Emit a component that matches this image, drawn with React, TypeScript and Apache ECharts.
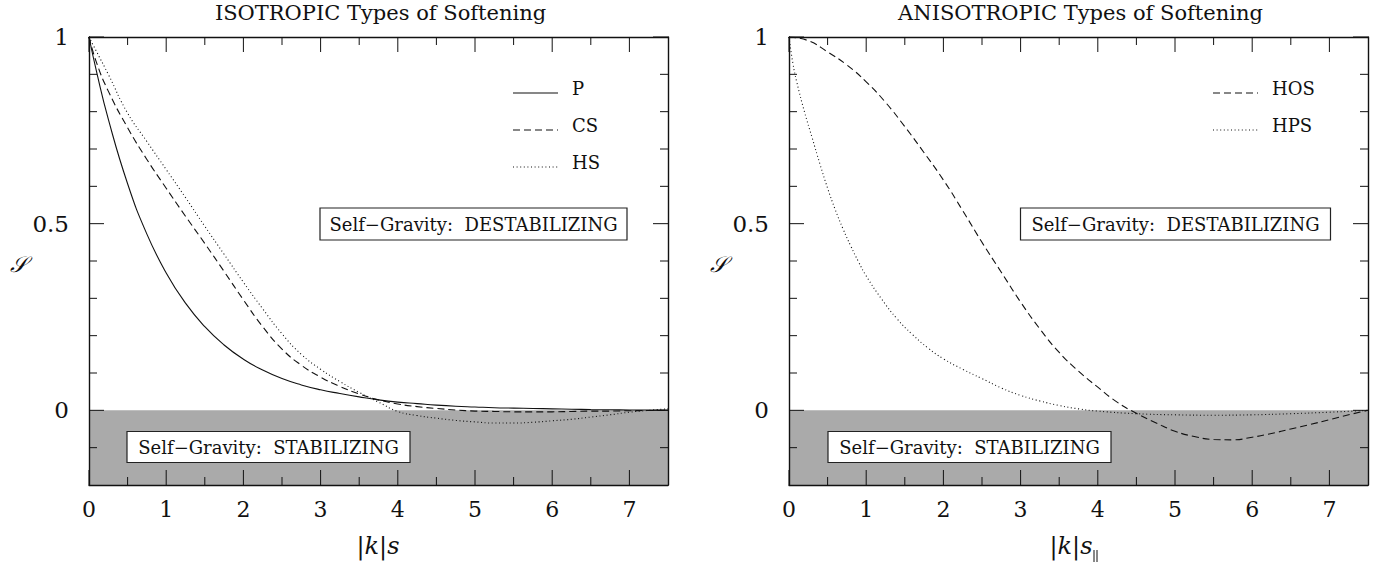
import React, { useEffect, useRef } from "react";
import * as echarts from "echarts";

const FONT = '"DejaVu Serif", "Liberation Serif", serif';

// ---- Isotropic softening (left panel) ----
const kIso = [0, 0.1, 0.25, 0.5, 0.75, 1, 1.25, 1.5, 1.75, 2, 2.25, 2.5, 2.75, 3, 3.25, 3.5, 3.75, 4, 4.25, 4.5, 4.75, 5, 5.25, 5.5, 5.75, 6, 6.25, 6.5, 6.75, 7, 7.25, 7.5];
const P = [1, 0.905, 0.78, 0.607, 0.472, 0.368, 0.287, 0.224, 0.175, 0.137, 0.108, 0.085, 0.068, 0.055, 0.045, 0.036, 0.028, 0.022, 0.018, 0.014, 0.011, 0.009, 0.007, 0.006, 0.005, 0.004, 0.003, 0.002, 0.0015, 0.001, 0.0007, 0.0005];
const CS = [1, 0.93, 0.855, 0.757, 0.672, 0.595, 0.52, 0.447, 0.372, 0.296, 0.224, 0.164, 0.121, 0.089, 0.064, 0.044, 0.028, 0.017, 0.01, 0.005, 0.001, -0.002, -0.003, -0.004, -0.004, -0.004, -0.003, -0.002, -0.002, -0.001, -0.0005, 0];
const HS = [1, 0.96, 0.9, 0.796, 0.72, 0.645, 0.57, 0.493, 0.418, 0.343, 0.272, 0.205, 0.15, 0.11, 0.077, 0.048, 0.022, -0.003, -0.014, -0.021, -0.027, -0.031, -0.034, -0.034, -0.032, -0.028, -0.024, -0.018, -0.012, -0.005, 0, 0.004];

// ---- Anisotropic softening (right panel) ----
const kHos = [0, 0.25, 0.5, 0.75, 1, 1.25, 1.5, 1.75, 2, 2.25, 2.5, 2.75, 3, 3.25, 3.5, 3.75, 4, 4.25, 4.5, 4.75, 5, 5.25, 5.5, 5.75, 6, 6.25, 6.5, 6.75, 7, 7.25, 7.5];
const HOS = [1, 0.99, 0.96, 0.925, 0.88, 0.825, 0.76, 0.69, 0.617, 0.535, 0.45, 0.37, 0.29, 0.218, 0.155, 0.105, 0.062, 0.022, -0.008, -0.033, -0.056, -0.07, -0.078, -0.079, -0.072, -0.062, -0.05, -0.038, -0.025, -0.012, 0];
const kHps = [0, 0.05, 0.1, 0.2, 0.3, 0.4, 0.5, 0.6, 0.7, 0.8, 0.9, 1, 1.2, 1.4, 1.6, 1.8, 2, 2.25, 2.5, 2.75, 3, 3.25, 3.5, 3.75, 4, 4.5, 5, 5.5, 6, 6.5, 7, 7.5];
const HPS = [1, 0.93, 0.88, 0.8, 0.73, 0.66, 0.595, 0.537, 0.486, 0.44, 0.398, 0.36, 0.298, 0.245, 0.203, 0.167, 0.138, 0.11, 0.085, 0.06, 0.04, 0.025, 0.013, 0.004, -0.002, -0.009, -0.012, -0.013, -0.012, -0.009, -0.005, 0];

// ---- axes / ticks ----
const xRange = [0, 7.5];
const yRange = [-0.2, 1];
const xMajorStep = 1;
const xMajorTicks = [0, 1, 2, 3, 4, 5, 6, 7];
const xMinorTicks = [0.5, 1.5, 2.5, 3.5, 4.5, 5.5, 6.5];
const yMinorStep = 0.1;
const yMajorTicks = [0, 0.5, 1];
const yMinorTicks = [-0.1, 0.1, 0.2, 0.3, 0.4, 0.6, 0.7, 0.8, 0.9];
const stableBand = [-0.2, 0];

const titles = ["ISOTROPIC Types of Softening", "ANISOTROPIC Types of Softening"];
const destabText = "Self\u2212Gravity:  DESTABILIZING";
const stabText = "Self\u2212Gravity:  STABILIZING";

const INK = "#111";
const GRID_LEFT = [89, 789];
const GRID_TOP = 37;
const GRID_W = 579;
const GRID_H = 448;
const MAJOR_LEN = 15;
const MINOR_LEN = 8;

function isHalf(v: number) {
  return Math.abs(v * 2 - Math.round(v * 2)) < 1e-6;
}

function axesFor(gi: number) {
  const common = { type: "value", gridIndex: gi, z: 10, splitLine: { show: false }, axisTick: { show: false } };
  const lineStyle = { color: INK, width: 1.4 };
  const xs: any[] = [];
  const ys: any[] = [];
  for (const pos of ["bottom", "top"]) {
    xs.push({
      ...common,
      min: xRange[0],
      max: xRange[1],
      interval: xMajorStep,
      position: pos,
      axisLine: { show: true, onZero: false, lineStyle },
      axisLabel: pos === "bottom"
        ? {
            show: true,
            margin: 13,
            fontSize: 22,
            fontFamily: FONT,
            color: INK,
            showMaxLabel: false,
            formatter: (v: number) => (Math.abs(v - Math.round(v)) < 1e-6 ? String(Math.round(v)) : ""),
          }
        : { show: false },
    });
  }
  for (const pos of ["left", "right"]) {
    ys.push({
      ...common,
      min: yRange[0],
      max: yRange[1],
      interval: yMinorStep,
      position: pos,
      axisLine: { show: true, onZero: false, lineStyle },
      axisLabel: pos === "left"
        ? {
            show: true,
            margin: 20,
            fontSize: 23,
            fontFamily: FONT,
            color: INK,
            formatter: (v: number) => (isHalf(v) && v >= 0 ? String(Math.round(v * 10) / 10) : ""),
          }
        : { show: false },
    });
  }
  return { xs, ys };
}

function curve(name: string, xs: number[], ys: number[], gi: number, dash: any) {
  return {
    type: "line",
    name,
    xAxisIndex: gi * 2,
    yAxisIndex: gi * 2,
    data: xs.map((x, i) => [x, ys[i]]),
    symbol: "none",
    smooth: true,
    silent: true,
    z: 3,
    lineStyle: { color: INK, width: 1.1, type: dash },
  };
}

function band(gi: number) {
  return {
    type: "line",
    xAxisIndex: gi * 2,
    yAxisIndex: gi * 2,
    data: [[xRange[0], stableBand[1]]],
    symbol: "none",
    silent: true,
    z: 1,
    lineStyle: { opacity: 0 },
    markArea: {
      silent: true,
      itemStyle: { color: "#aaaaaa" },
      data: [[{ yAxis: stableBand[0] }, { yAxis: stableBand[1] }]],
    },
  };
}

const DASH = [7, 4];
const DOT = [1, 2.6];

function legendItem(x: number, y: number, label: string, dash: any) {
  return [
    {
      type: "line",
      z: 20,
      shape: { x1: x, y1: y, x2: x + 45, y2: y },
      style: { stroke: INK, lineWidth: 1.1, lineDash: dash },
    },
    {
      type: "text",
      z: 20,
      x: x + 59,
      y: y - 5,
      style: { text: label, font: `18px ${FONT}`, fill: INK, align: "left", verticalAlign: "middle" },
    },
  ];
}

function box(cx: number, cy: number, w: number, h: number, label: string) {
  return [
    {
      type: "rect",
      z: 20,
      shape: { x: cx - w / 2, y: cy - h / 2, width: w, height: h },
      style: { fill: "#fff", stroke: "#222", lineWidth: 1.2 },
    },
    {
      type: "text",
      z: 21,
      x: cx,
      y: cy,
      style: { text: label, font: `18px ${FONT}`, fill: INK, align: "center", verticalAlign: "middle" },
    },
  ];
}

function baseGraphic() {
  const graphic: any[] = [];
  titles.forEach((t, i) => {
    graphic.push({
      type: "text",
      z: 20,
      x: GRID_LEFT[i] + GRID_W / 2 + 2,
      y: 13,
      style: { text: t, font: `21px ${FONT}`, fill: INK, align: "center", verticalAlign: "middle" },
    });
  });
  [0, 1].forEach((i) => {
    graphic.push({
      type: "text",
      z: 20,
      x: GRID_LEFT[i] - 71,
      y: 264,
      style: { text: "\u{1D4AE}", font: `italic 22px ${FONT}`, fill: INK, align: "center", verticalAlign: "middle" },
    });
  });
  const kLabel = (x: number) => ({
    type: "text",
    z: 20,
    x,
    y: 546,
    style: {
      text: "|{i|k}|{i|s}",
      font: `24px ${FONT}`,
      fill: INK,
      align: "center",
      verticalAlign: "middle",
      rich: { i: { fontStyle: "italic", fontSize: 24, fontFamily: FONT } },
    },
  });
  graphic.push(kLabel(GRID_LEFT[0] + 289));
  graphic.push(kLabel(GRID_LEFT[1] + 282));
  const sx = GRID_LEFT[1] + 305;
  graphic.push({ type: "line", z: 20, shape: { x1: sx, y1: 550, x2: sx, y2: 562 }, style: { stroke: INK, lineWidth: 1 } });
  graphic.push({ type: "line", z: 20, shape: { x1: sx + 3, y1: 550, x2: sx + 3, y2: 562 }, style: { stroke: INK, lineWidth: 1 } });

  graphic.push(...legendItem(513, 93, "P", "solid"));
  graphic.push(...legendItem(513, 130, "CS", DASH));
  graphic.push(...legendItem(513, 167, "HS", DOT));
  graphic.push(...legendItem(1213, 93, "HOS", DASH));
  graphic.push(...legendItem(1213, 130, "HPS", DOT));

  graphic.push(...box(473.5, 224, 307, 32, destabText));
  graphic.push(...box(1175.5, 224, 310, 32, destabText));
  graphic.push(...box(268.5, 447, 283, 31, stabText));
  graphic.push(...box(969.5, 447, 283, 31, stabText));
  return graphic;
}

function tickGraphic(chart: any) {
  const els: any[] = [];
  const seg = (x1: number, y1: number, x2: number, y2: number) =>
    els.push({ type: "line", z: 15, silent: true, shape: { x1, y1, x2, y2 }, style: { stroke: INK, lineWidth: 1 } });
  for (const gi of [0, 1]) {
    const finder = { xAxisIndex: gi * 2, yAxisIndex: gi * 2 };
    const px = (x: number, y: number) => chart.convertToPixel(finder, [x, y]);
    const addX = (vals: number[], len: number) => {
      for (const v of vals) {
        const b = px(v, yRange[0]);
        const t = px(v, yRange[1]);
        seg(b[0], b[1], b[0], b[1] - len);
        seg(t[0], t[1], t[0], t[1] + len);
      }
    };
    const addY = (vals: number[], len: number) => {
      for (const v of vals) {
        const l = px(xRange[0], v);
        const r = px(xRange[1], v);
        seg(l[0], l[1], l[0] + len, l[1]);
        seg(r[0], r[1], r[0] - len, r[1]);
      }
    };
    addX(xMajorTicks, MAJOR_LEN);
    addX(xMinorTicks, MINOR_LEN);
    addY(yMajorTicks, MAJOR_LEN);
    addY(yMinorTicks, MINOR_LEN);
  }
  return els;
}

function buildOption() {
  const a0 = axesFor(0);
  const a1 = axesFor(1);
  return {
    animation: false,
    backgroundColor: "#fff",
    grid: [
      { left: GRID_LEFT[0], top: GRID_TOP, width: GRID_W, height: GRID_H, show: false },
      { left: GRID_LEFT[1], top: GRID_TOP, width: GRID_W, height: GRID_H, show: false },
    ],
    xAxis: [...a0.xs, ...a1.xs],
    yAxis: [...a0.ys, ...a1.ys],
    series: [
      band(0),
      band(1),
      curve("P", kIso, P, 0, "solid"),
      curve("CS", kIso, CS, 0, DASH),
      curve("HS", kIso, HS, 0, DOT),
      curve("HOS", kHos, HOS, 1, DASH),
      curve("HPS", kHps, HPS, 1, DOT),
    ],
    graphic: { elements: baseGraphic() },
  };
}

export default function App() {
  const ref = useRef<HTMLDivElement>(null);
  useEffect(() => {
    const chart = echarts.init(ref.current!, null, { renderer: "svg" });
    chart.setOption(buildOption() as any);
    chart.setOption({ graphic: { elements: [...baseGraphic(), ...tickGraphic(chart)] } } as any);
    return () => chart.dispose();
  }, []);
  return (
    <div
      ref={ref}
      style={{ position: "fixed", left: 0, top: 0, width: 1374, height: 573, background: "#fff" }}
    />
  );
}
